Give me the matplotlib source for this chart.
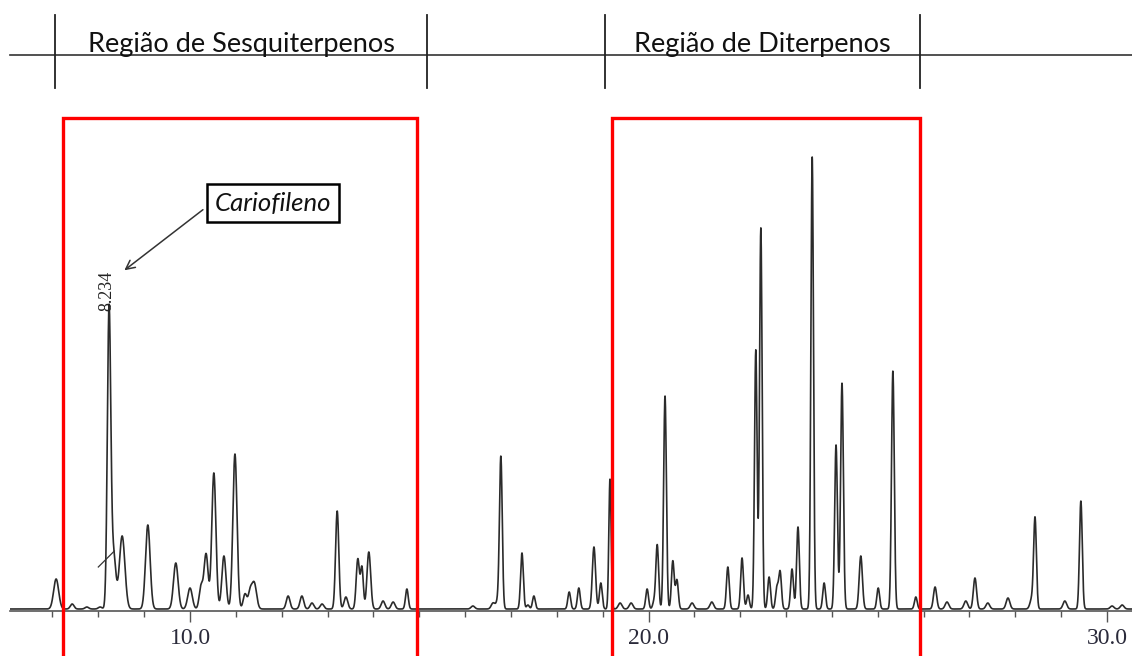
import numpy as np
import matplotlib.pyplot as plt
from matplotlib.patches import Rectangle

peak_times = [7.08, 7.43, 7.75, 8.04, 8.234, 8.33, 8.52, 9.08, 9.69, 10.00, 10.24, 10.35,
              10.52, 10.74, 10.98, 11.20, 11.31, 11.40, 12.14, 12.44, 12.66, 12.88, 13.21,
              13.40, 13.66, 13.75, 13.90, 14.21, 14.43, 14.73,
              16.17, 16.61, 16.72, 16.78, 17.24, 17.37, 17.50, 18.27, 18.48, 18.81, 18.96,
              19.16, 19.38, 19.62, 19.97, 20.12, 20.19, 20.36, 20.53, 20.62, 20.95, 21.38,
              21.73, 22.04, 22.17, 22.34, 22.45, 22.63, 22.80, 22.87, 23.13, 23.26, 23.57,
              23.83, 24.09, 24.22, 24.63, 25.01, 25.33, 25.83,
              26.25, 26.51, 26.92, 27.12, 27.40, 27.84, 28.36, 28.43, 29.08, 29.43, 30.11, 30.33]
peak_heights = [30, 5, 2, 2, 296, 55, 73, 84, 46, 21, 22, 55,
                136, 53, 155, 15, 16, 26, 13, 13, 6, 5, 98,
                12, 50, 41, 57, 8, 7, 20,
                3, 6, 9, 150, 56, 4, 13, 17, 21, 62, 26,
                130, 6, 6, 20, 7, 64, 213, 48, 29, 6, 7,
                42, 51, 14, 259, 381, 32, 21, 37, 40, 82, 452,
                26, 164, 226, 53, 21, 238, 12,
                22, 7, 8, 31, 6, 11, 10, 90, 8, 108, 3, 4]
peak_widths = [0.055, 0.04, 0.04, 0.04, 0.037, 0.05, 0.06, 0.05, 0.05, 0.05, 0.04, 0.045,
               0.045, 0.045, 0.045, 0.04, 0.04, 0.05, 0.04, 0.04, 0.04, 0.04, 0.035,
               0.04, 0.035, 0.03, 0.04, 0.04, 0.04, 0.03,
               0.04, 0.04, 0.04, 0.03, 0.03, 0.03, 0.03, 0.03, 0.03, 0.035, 0.03,
               0.025, 0.04, 0.04, 0.03, 0.03, 0.03, 0.03, 0.03, 0.03, 0.04, 0.04,
               0.03, 0.03, 0.03, 0.028, 0.028, 0.03, 0.03, 0.03, 0.03, 0.03, 0.028,
               0.03, 0.03, 0.03, 0.035, 0.03, 0.03, 0.03,
               0.035, 0.04, 0.04, 0.035, 0.04, 0.04, 0.04, 0.03, 0.04, 0.03, 0.04, 0.04]

x_ticks_major = [10.0, 20.0, 30.0]
x_ticks_minor = list(range(7, 31))

regions = ['Região de Sesquiterpenos', 'Região de Diterpenos']
region_limits = [(7.06, 15.17), (19.05, 25.92)]
box_limits = [(7.23, 14.95), (19.20, 25.92)]

caryo_label = 'Cariofileno'
caryo_time = 8.234


def build_signal(t):
    y = np.zeros_like(t)
    for t0, h, s in zip(peak_times, peak_heights, peak_widths):
        y += h * np.exp(-0.5 * ((t - t0) / s) ** 2)
    return y


def main():
    fig = plt.figure(figsize=(11.32, 6.56), dpi=100)
    ax = fig.add_axes([10 / 1132, 45 / 656, 1 - 10 / 1132, 611 / 656])

    xmin, xmax = 6.074, 30.545
    t = np.linspace(xmin, xmax, 8000)
    ax.plot(t, build_signal(t), color='#2b2b2b', lw=1.2)
    ax.set_xlim(xmin, xmax)
    ax.set_ylim(-2, 609)

    for side in ['top', 'right', 'left']:
        ax.spines[side].set_visible(False)
    ax.spines['bottom'].set_color('#555555')
    ax.spines['bottom'].set_linewidth(1.2)
    ax.set_yticks([])
    ax.set_xticks(x_ticks_major)
    ax.set_xticklabels([f'{v:.1f}' for v in x_ticks_major], family='Liberation Serif',
                       fontsize=17, color='#2a2a3a')
    ax.set_xticks(x_ticks_minor, minor=True)
    ax.tick_params(axis='x', which='major', length=8, width=1, color='#555555', pad=4)
    ax.tick_params(axis='x', which='minor', length=4, width=1, color='#555555')

    # cabecalho com as regioes
    ax.plot([xmin, xmax], [554, 554], color='#333333', lw=1.2, clip_on=False)
    for (a, b), name in zip(region_limits, regions):
        for v in (a, b):
            ax.plot([v, v], [521, 594], color='#222222', lw=1.3, clip_on=False)
        ax.text((a + b) / 2, 557, name, ha='center', va='baseline', fontsize=19.5,
                family='Lato', color='#111111')

    # caixas vermelhas
    for a, b in box_limits:
        ax.add_patch(Rectangle((a, -80), b - a, 571, fill=False, edgecolor='#ff0000',
                               lw=2.4, clip_on=False, zorder=5))

    # rotulo do pico
    idx = peak_times.index(caryo_time)
    top = peak_heights[idx]
    ax.text(caryo_time - 0.05, top + 2, f'{caryo_time:.3f}', rotation=90, ha='center',
            va='bottom', fontsize=13, family='Liberation Serif', color='#222222')
    ax.annotate('', xy=(8.52, 337), xytext=(10.33, 401),
                arrowprops=dict(arrowstyle='->', color='#333333', lw=1.1,
                                mutation_scale=16))
    ax.text(11.81, 406, caryo_label, ha='center', va='center', fontsize=18.5,
            family='Lato', style='italic', color='#111111',
            bbox=dict(boxstyle='square,pad=0.3', fc='white', ec='black', lw=1.8))
    # marca de integracao
    ax.plot([8.0, 8.35], [42, 58], color='#333333', lw=0.9)

    fig.savefig('out.png', dpi=100)


if __name__ == '__main__':
    main()
